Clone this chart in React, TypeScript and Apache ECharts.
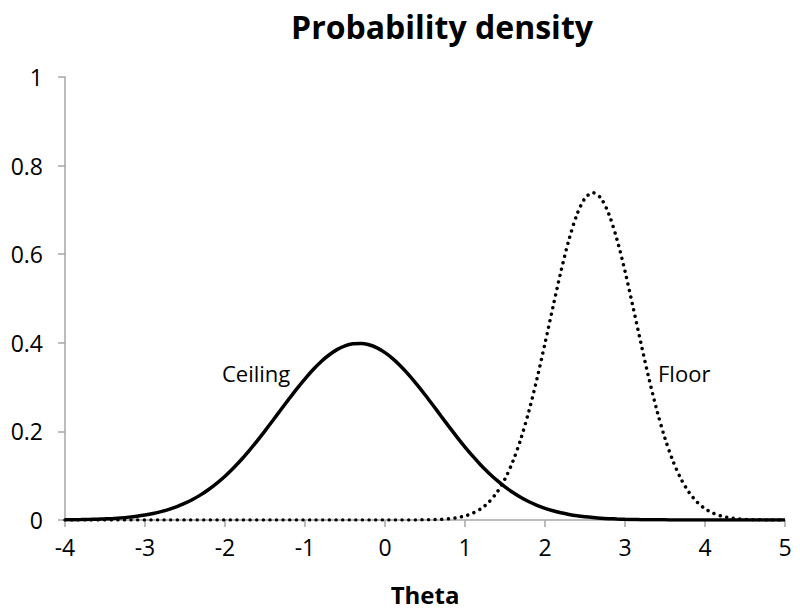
import React, { useEffect, useRef } from "react";
import * as echarts from "echarts";

const thetaValues = [
  -4, -3.9, -3.8, -3.7, -3.6, -3.5, -3.4, -3.3, -3.2, -3.1,
  -3, -2.9, -2.8, -2.7, -2.6, -2.5, -2.4, -2.3, -2.2, -2.1,
  -2, -1.9, -1.8, -1.7, -1.6, -1.5, -1.4, -1.3, -1.2, -1.1,
  -1, -0.9, -0.8, -0.7, -0.6, -0.5, -0.4, -0.3, -0.2, -0.1,
  0, 0.1, 0.2, 0.3, 0.4, 0.5, 0.6, 0.7, 0.8, 0.9,
  1, 1.1, 1.2, 1.3, 1.4, 1.5, 1.6, 1.7, 1.8, 1.9,
  2, 2.1, 2.2, 2.3, 2.4, 2.5, 2.6, 2.7, 2.8, 2.9,
  3, 3.1, 3.2, 3.3, 3.4, 3.5, 3.6, 3.7, 3.8, 3.9,
  4, 4.1, 4.2, 4.3, 4.4, 4.5, 4.6, 4.7, 4.8, 4.9,
  5,
];
const ceilingValues = [
  0.0005, 0.0007, 0.001, 0.0014, 0.0019, 0.0026, 0.0036, 0.0048, 0.0065, 0.0086,
  0.0113, 0.0147, 0.0189, 0.0241, 0.0303, 0.0379, 0.0468, 0.0573, 0.0695, 0.0833,
  0.0989, 0.1164, 0.1354, 0.1561, 0.1782, 0.2013, 0.2251, 0.2493, 0.2733, 0.2967,
  0.3187, 0.3392, 0.3574, 0.3725, 0.3846, 0.3932, 0.3979, 0.3987, 0.3956, 0.3885,
  0.3778, 0.3637, 0.3466, 0.3271, 0.3056, 0.2827, 0.2589, 0.2347, 0.2107, 0.1872,
  0.1647, 0.1435, 0.1237, 0.1057, 0.0893, 0.0748, 0.062, 0.0508, 0.0413, 0.0332,
  0.0264, 0.0208, 0.0163, 0.0126, 0.0096, 0.0073, 0.0055, 0.004, 0.003, 0.0022,
  0.0016, 0.0011, 0.0008, 0.0005, 0.0004, 0.0003, 0.0002, 0.0001, 0.0001, 0.0001,
  0, 0, 0, 0, 0, 0, 0, 0, 0, 0,
  0,
];
const floorValues = [
  0, 0, 0, 0, 0, 0, 0, 0, 0, 0,
  0, 0, 0, 0, 0, 0, 0, 0, 0, 0,
  0, 0, 0, 0, 0, 0, 0, 0, 0, 0,
  0, 0, 0, 0, 0, 0, 0, 0, 0, 0,
  0, 0, 0, 0.0001, 0.0002, 0.0004, 0.0008, 0.0015, 0.0029, 0.0052,
  0.0092, 0.0156, 0.0256, 0.0407, 0.0625, 0.0928, 0.133, 0.1843, 0.2465, 0.3189,
  0.3985, 0.4812, 0.5616, 0.6331, 0.6898, 0.7262, 0.7388, 0.7262, 0.6898, 0.6331,
  0.5616, 0.4812, 0.3985, 0.3189, 0.2465, 0.1843, 0.133, 0.0928, 0.0625, 0.0407,
  0.0256, 0.0156, 0.0092, 0.0052, 0.0029, 0.0015, 0.0008, 0.0004, 0.0002, 0.0001,
  0,
];
const titleText = "Probability density";
const xAxisTitle = "Theta";
const ceilingLabel = "Ceiling";
const floorLabel = "Floor";

const FONT = "'Open Sans', 'Noto Sans', sans-serif";

export default function App() {
  const ref = useRef<HTMLDivElement>(null);
  useEffect(() => {
    if (!ref.current) return;
    const chart = echarts.init(ref.current, null, { renderer: "svg" });
    const ceilingData = thetaValues.map((t, i) => [t, ceilingValues[i]]);
    const floorData = thetaValues.map((t, i) => [t, floorValues[i]]);
    chart.setOption({
      animation: false,
      backgroundColor: "#ffffff",
      title: {
        text: titleText,
        left: 437,
        textAlign: "center",
        top: 5,
        textStyle: { fontFamily: FONT, fontWeight: "bold", fontSize: 32, color: "#000" },
      },
      grid: { left: 65, right: 15, top: 77, bottom: 94, containLabel: false },
      xAxis: {
        type: "value",
        min: -4,
        max: 5,
        interval: 1,
        name: xAxisTitle,
        nameLocation: "middle",
        nameGap: 62,
        nameTextStyle: { fontFamily: FONT, fontWeight: "bold", fontSize: 24, color: "#000" },
        axisLine: { onZero: false, lineStyle: { color: "#a6a6a6", width: 1.5 } },
        axisTick: { show: true, inside: false, length: 7, lineStyle: { color: "#a6a6a6", width: 1.5 } },
        axisLabel: { fontFamily: FONT, fontSize: 23, color: "#000", margin: 15 },
        splitLine: { show: false },
      },
      yAxis: {
        type: "value",
        min: 0,
        max: 1,
        interval: 0.2,
        axisLine: { show: true, onZero: false, lineStyle: { color: "#a6a6a6", width: 1.5 } },
        axisTick: { show: true, inside: false, length: 7, lineStyle: { color: "#a6a6a6", width: 1.5 } },
        axisLabel: { fontFamily: FONT, fontSize: 23, color: "#000", margin: 22 },
        splitLine: { show: false },
      },
      series: [
        {
          name: ceilingLabel,
          type: "line",
          data: ceilingData,
          smooth: 0.3,
          showSymbol: false,
          lineStyle: { color: "#000", width: 3.5 },
          z: 3,
        },
        {
          name: floorLabel,
          type: "line",
          data: floorData,
          smooth: 0.3,
          showSymbol: false,
          lineStyle: { color: "#000", width: 3.5, type: [0.01, 6.6], cap: "round" },
          z: 2,
        },
      ],
      graphic: [
        {
          type: "text",
          left: 222,
          top: 362,
          style: { text: ceilingLabel, fontFamily: FONT, fontSize: 22, fill: "#000" },
        },
        {
          type: "text",
          left: 658,
          top: 362,
          style: { text: floorLabel, fontFamily: FONT, fontSize: 22, fill: "#000" },
        },
      ],
    });
    return () => chart.dispose();
  }, []);
  return <div ref={ref} style={{ position: "fixed", left: 0, top: 0, width: 800, height: 614 }} />;
}
